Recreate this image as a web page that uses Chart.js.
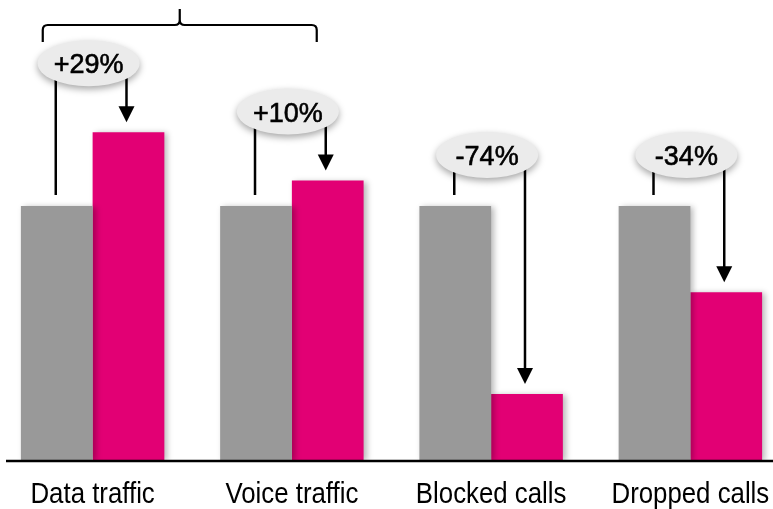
<!DOCTYPE html>
<html>
<head>
<meta charset="utf-8">
<script src="https://cdn.jsdelivr.net/npm/chart.js@4"></script>
<style>
  html, body { margin: 0; padding: 0; background: #fff; overflow: hidden; width: 773px; height: 509px; }
  #wrap { position: absolute; left: -7px; top: 0; width: 797px; height: 509px; }
</style>
</head>
<body>
<div id="wrap"><canvas id="c"></canvas></div>
<script>
// Network KPIs, indexed so that the "before" period equals 100
const categories = ['Data traffic', 'Voice traffic', 'Blocked calls', 'Dropped calls'];
const beforeValues = [100, 100, 100, 100];
const afterValues = [129, 110, 26, 66];
const changeLabels = ['+29%', '+10%', '-74%', '-34%'];

const GREY = '#999999';
const MAGENTA = '#e20074';
const FONT = '"Liberation Sans", Arial, sans-serif';

// soft drop shadow behind the bars
const barShadow = {
  id: 'barShadow',
  beforeDatasetsDraw(chart) {
    const ctx = chart.ctx;
    ctx.save();
    ctx.shadowColor = 'rgba(0,0,0,0.28)';
    ctx.shadowBlur = 6;
    ctx.shadowOffsetX = 3;
    ctx.shadowOffsetY = 1;
  },
  afterDatasetsDraw(chart) { chart.ctx.restore(); }
};

// category names in a narrow face: regular sans squeezed horizontally
const narrowTicks = {
  id: 'narrowTicks',
  afterDraw(chart) {
    const ctx = chart.ctx;
    const x = chart.scales.x;
    ctx.save();
    ctx.fillStyle = '#000';
    ctx.font = '30px ' + FONT;
    ctx.textAlign = 'center';
    ctx.textBaseline = 'alphabetic';
    x.ticks.forEach((t, i) => {
      const px = x.getPixelForTick(i);
      ctx.save();
      ctx.translate(px, chart.chartArea.bottom + 43);
      ctx.scale(0.86, 1);
      ctx.fillText(x.getLabelForValue(t.value), 0, 0);
      ctx.restore();
    });
    ctx.restore();
  }
};

function arrowDown(ctx, x, y0, y1) {
  ctx.beginPath();
  ctx.moveTo(x, y0);
  ctx.lineTo(x, y1 - 14);
  ctx.stroke();
  ctx.beginPath();
  ctx.moveTo(x - 8, y1 - 16);
  ctx.lineTo(x + 8, y1 - 16);
  ctx.lineTo(x, y1);
  ctx.closePath();
  ctx.fill();
}

// base line, change bubbles with connectors, and the bracket over the traffic pair
const annotations = {
  id: 'annotations',
  afterDraw(chart) {
    const ctx = chart.ctx;
    const y = chart.scales.y;
    const area = chart.chartArea;
    const m0 = chart.getDatasetMeta(0).data;
    const m1 = chart.getDatasetMeta(1).data;
    ctx.save();

    // axis line
    ctx.strokeStyle = '#000';
    ctx.lineWidth = 2.5;
    ctx.beginPath();
    ctx.moveTo(13, area.bottom + 1);
    ctx.lineTo(chart.width, area.bottom + 1);
    ctx.stroke();

    categories.forEach((cat, i) => {
      const b = beforeValues[i], a = afterValues[i];
      const gx = m0[i].x - 1;
      const px = m1[i].x - 2;
      const topPx = y.getPixelForValue(Math.max(a, b));
      const cy = topPx - (a > b ? 69 : 51);
      const cx = (m0[i].x + m1[i].x) / 2 - 4;
      const rx = 51, ry = 23;

      ctx.strokeStyle = '#000';
      ctx.fillStyle = '#000';
      ctx.lineWidth = 2.5;
      // connector from the bubble to the before bar
      ctx.beginPath();
      ctx.moveTo(gx, cy);
      ctx.lineTo(gx, y.getPixelForValue(b) - 11);
      ctx.stroke();
      // arrow from the bubble to the after bar
      arrowDown(ctx, px, cy, y.getPixelForValue(a) - 10);

      // bubble
      ctx.save();
      ctx.shadowColor = 'rgba(0,0,0,0.35)';
      ctx.shadowBlur = 7;
      ctx.shadowOffsetY = 3;
      ctx.fillStyle = '#ebebeb';
      ctx.beginPath();
      ctx.ellipse(cx, cy, rx, ry, 0, 0, Math.PI * 2);
      ctx.fill();
      ctx.restore();

      ctx.fillStyle = '#000';
      ctx.strokeStyle = '#000';
      ctx.lineWidth = 0.6;
      ctx.font = '27px ' + FONT;
      ctx.textAlign = 'center';
      ctx.textBaseline = 'alphabetic';
      ctx.fillText(changeLabels[i], cx, cy + 10);
      ctx.strokeText(changeLabels[i], cx, cy + 10);
    });

    // bracket grouping the two traffic categories
    const left = m0[0].x - 14;
    const right = m1[1].x - 11;
    const mid = (left + right) / 2;
    const by = 25, r = 5;
    ctx.strokeStyle = '#000';
    ctx.lineWidth = 2.2;
    ctx.beginPath();
    ctx.moveTo(left, 42);
    ctx.lineTo(left, by + r);
    ctx.quadraticCurveTo(left, by, left + r, by);
    ctx.lineTo(mid - r, by);
    ctx.quadraticCurveTo(mid, by, mid, by - r);
    ctx.lineTo(mid, 9);
    ctx.moveTo(mid, by - r);
    ctx.quadraticCurveTo(mid, by, mid + r, by);
    ctx.lineTo(right - r, by);
    ctx.quadraticCurveTo(right, by, right, by + r);
    ctx.lineTo(right, 42);
    ctx.stroke();

    ctx.restore();
  }
};

new Chart(document.getElementById('c'), {
  type: 'bar',
  data: {
    labels: categories,
    datasets: [
      { label: 'Before', data: beforeValues, backgroundColor: GREY },
      { label: 'After', data: afterValues, backgroundColor: MAGENTA }
    ]
  },
  options: {
    responsive: true,
    maintainAspectRatio: false,
    animation: false,
    devicePixelRatio: 1,
    layout: { padding: 0 },
    plugins: { legend: { display: false }, tooltip: { enabled: false } },
    datasets: { bar: { categoryPercentage: 0.72, barPercentage: 1.0 } },
    scales: {
      x: {
        grid: { display: false, drawTicks: false },
        border: { display: false },
        ticks: { display: false },
        afterFit(s) { s.height = 49; }
      },
      y: {
        display: false,
        min: 0,
        max: 181.1
      }
    }
  },
  plugins: [barShadow, narrowTicks, annotations]
});
</script>
</body>
</html>
